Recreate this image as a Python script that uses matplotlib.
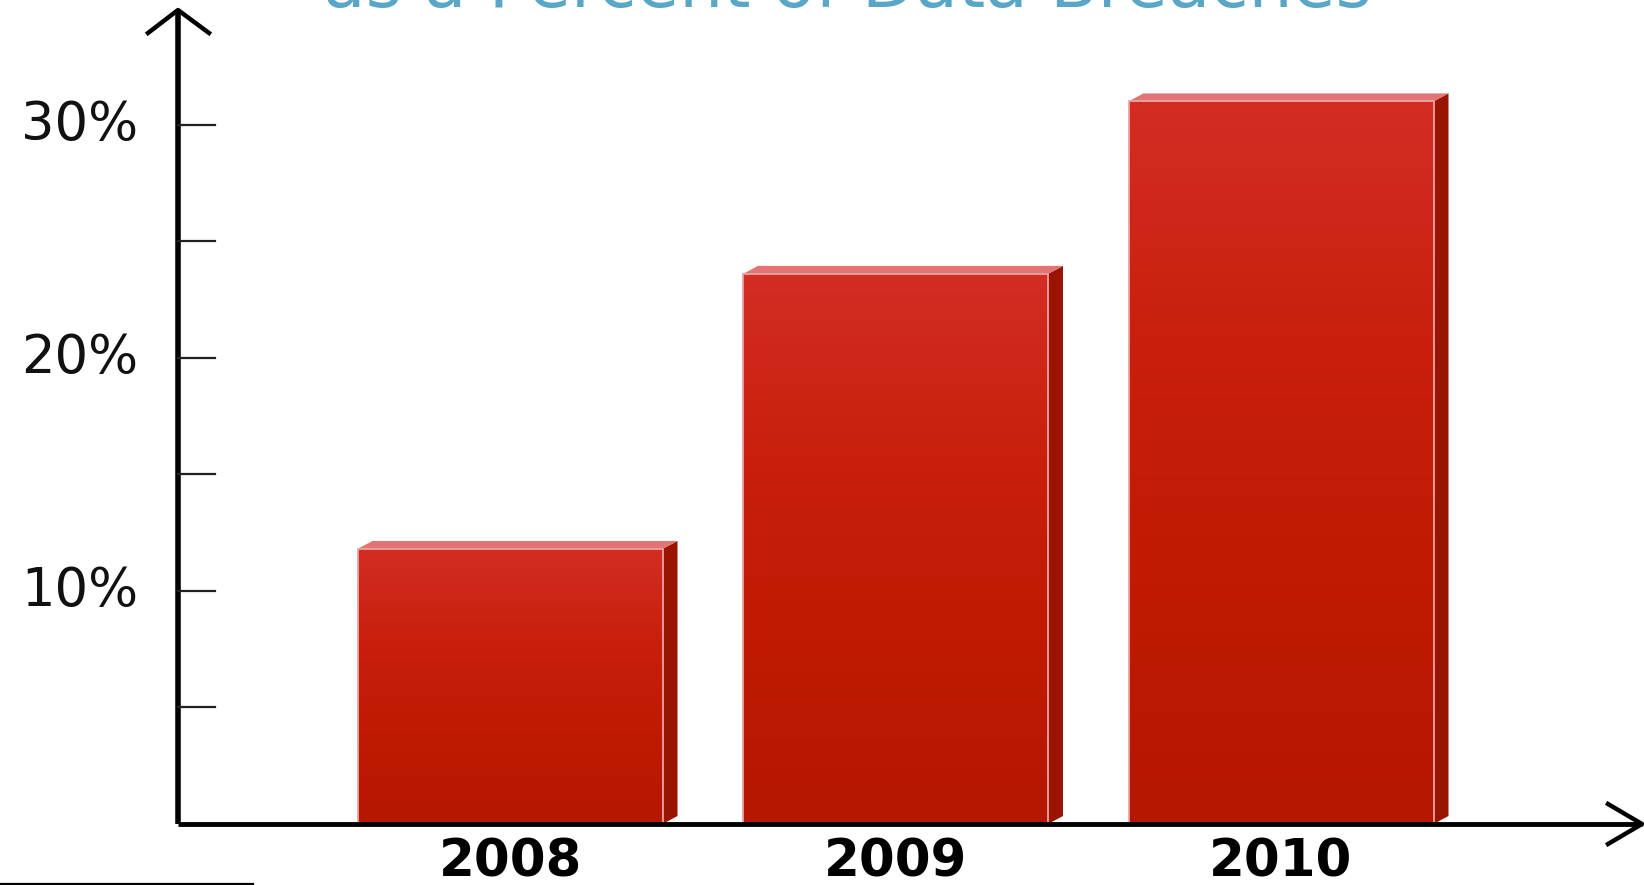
import numpy as np
import matplotlib.pyplot as plt
from matplotlib.colors import LinearSegmentedColormap
from matplotlib.patches import Polygon
from matplotlib.lines import Line2D

years = ['2008', '2009', '2010']
percent = [11.8, 23.6, 31.0]
tick_vals = [5, 10, 15, 20, 25, 30]
tick_labels = {10: '10%', 20: '20%', 30: '30%'}
title = 'as a Percent of Data Breaches'

W, H = 1644, 885
fig = plt.figure(figsize=(W / 100, H / 100), dpi=100)
fig.patch.set_facecolor('white')

# axes placed in pixels: y=0 at 824px from top, left axis at 178px
left_px, right_px, zero_px, top_px = 178, 1642, 824, 10
ax = fig.add_axes([left_px / W, (H - zero_px) / H, (right_px - left_px) / W, (zero_px - top_px) / H])
ax.set_axis_off()

px_per_unit = 385.5
px_per_pct = 23.31
xlim = ((left_px - 510) / px_per_unit, (right_px - 510) / px_per_unit)
ylim = (0, (zero_px - top_px) / px_per_pct)

bar_w = 305 / px_per_unit
dx = 15 / px_per_unit
dy = 8 / px_per_pct

front = LinearSegmentedColormap.from_list('front', ['#b51700', '#c01a02', '#c91f0c', '#d32d24'])
ramp = np.linspace(0, 1, 256).reshape(-1, 1)

for i, v in enumerate(percent):
    x0, x1 = i - bar_w / 2, i + bar_w / 2
    ax.imshow(ramp, cmap=front, origin='lower', extent=[x0, x1, 0, v], aspect='auto', zorder=2)
    # side face
    sp = Polygon([(x1, 0), (x1 + dx, dy), (x1 + dx, v + dy), (x1, v)], closed=True,
                 facecolor='#9a1402', edgecolor='none', zorder=2)
    ax.add_patch(sp)
    # top face
    tp = Polygon([(x0, v), (x0 + dx, v + dy), (x1 + dx, v + dy), (x1, v)], closed=True,
                 facecolor='#e27474', edgecolor='none', zorder=2)
    ax.add_patch(tp)
    ax.plot([x0, x0, x1, x1], [0, v, v, 0], color='#eca3a3', lw=1.3, zorder=3)
    ax.text(i, -1.65, years[i], ha='center', va='center', fontsize=37,
            fontweight='bold', color='black', clip_on=False)

ax.set_xlim(*xlim)
ax.set_ylim(*ylim)

# axis lines with open chevron arrows
ax_w = right_px - left_px
ax_h = zero_px - top_px
ax.plot([0, 0], [0, 1], transform=ax.transAxes, color='black', lw=4, clip_on=False,
        solid_capstyle='butt', zorder=4)
ax.plot([0, 1], [0, 0], transform=ax.transAxes, color='black', lw=3.5, clip_on=False,
        solid_capstyle='butt', zorder=4)
ax.plot([-30 / ax_w, 0, 31 / ax_w], [1 - 23 / ax_h, 1, 1 - 23 / ax_h], transform=ax.transAxes,
        color='black', lw=3.2, clip_on=False, zorder=4)
ax.plot([1 - 34 / ax_w, 1, 1 - 34 / ax_w], [20 / ax_h, 0, -20 / ax_h], transform=ax.transAxes,
        color='black', lw=3.2, clip_on=False, zorder=4)

yt = ax.get_yaxis_transform()
for t in tick_vals:
    ax.plot([0, 37 / ax_w], [t, t], transform=yt, color='#222222', lw=1.6, clip_on=False, zorder=4)
    if t in tick_labels:
        ax.text(-40 / ax_w, t, tick_labels[t], transform=yt, ha='right', va='center',
                fontsize=38, color='#111111', clip_on=False)

# cut-off title at the top edge
fig.text(847 / W, 1 - 7 / H, title, ha='center', va='baseline', fontsize=50, color='#5aa6c6')

# short rule at the bottom left
fig.add_artist(Line2D([0, 253 / W], [1 / H, 1 / H], color='black', lw=1.6))

fig.savefig('out.png', dpi=100)
